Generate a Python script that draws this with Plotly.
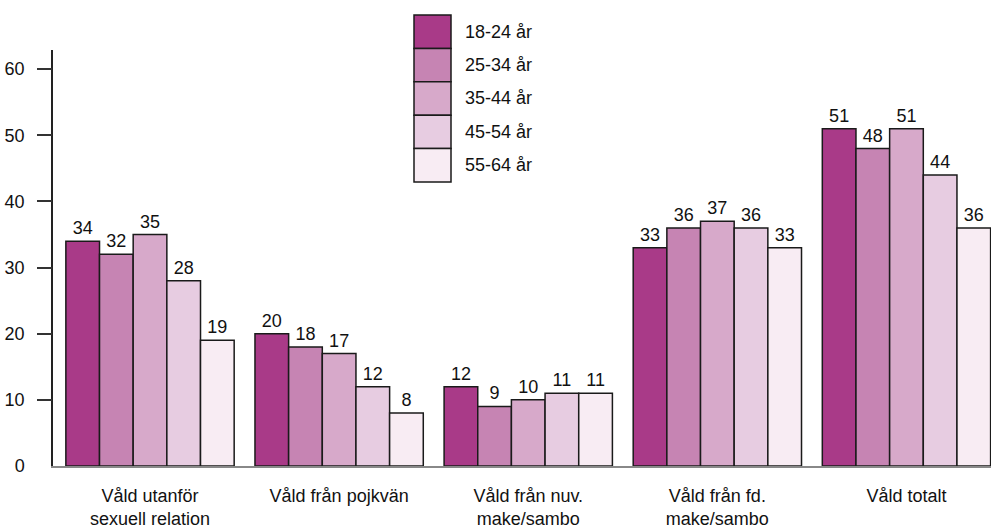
import plotly.graph_objects as go

categories = ["Våld utanför<br>sexuell relation", "Våld från pojkvän", "Våld från nuv.<br>make/sambo",
              "Våld från fd.<br>make/sambo", "Våld totalt"]
series_names = ["18-24 år", "25-34 år", "35-44 år", "45-54 år", "55-64 år"]
v_18_24 = [34, 20, 12, 33, 51]
v_25_34 = [32, 18, 9, 36, 48]
v_35_44 = [35, 17, 10, 37, 51]
v_45_54 = [28, 12, 11, 36, 44]
v_55_64 = [19, 8, 11, 33, 36]
series_values = [v_18_24, v_25_34, v_35_44, v_45_54, v_55_64]
y_ticks = [0, 10, 20, 30, 40, 50, 60]

colors = ["#A93A88", "#C684B3", "#D7A9CA", "#E7CCE1", "#F8ECF3"]
FONT = "Liberation Sans, Arial, Helvetica, sans-serif"
FS = 18

W, H = 991, 529
L, R, T, B = 53, 0, 50, 63

fig = go.Figure()
xs = list(range(len(categories)))
for name, vals, c in zip(series_names, series_values, colors):
    fig.add_trace(go.Bar(
        x=xs, y=vals, name=name,
        marker=dict(color=c, line=dict(color="#1a1a1a", width=1.5)),
        text=[str(v) for v in vals], textposition="outside",
        textfont=dict(family=FONT, size=FS, color="#111"),
        cliponaxis=False, showlegend=False,
    ))

# tick marks only (no tick at 0)
fig.add_trace(go.Scatter(x=[0], y=[0], yaxis="y2", mode="markers",
                         marker=dict(opacity=0), showlegend=False, hoverinfo="skip"))

yrange = [0, 62.9]
fig.update_layout(
    width=W, height=H,
    margin=dict(l=L, r=R, t=T, b=B, autoexpand=False),
    paper_bgcolor="white", plot_bgcolor="white",
    barmode="group", bargap=0.11, bargroupgap=0,
    font=dict(family=FONT, size=FS, color="#111"),
    uniformtext=dict(minsize=FS, mode="show"),
    xaxis=dict(
        range=[-0.513, 4.447], tickvals=xs, ticktext=categories,
        showline=True, linecolor="#888", linewidth=2,
        ticks="", showgrid=False, zeroline=False, automargin=False,
        ticklabelstandoff=12,
        tickfont=dict(family=FONT, size=FS, color="#111"),
    ),
    yaxis=dict(
        range=yrange, tickvals=y_ticks, ticktext=[str(t) for t in y_ticks],
        showline=True, linecolor="#222", linewidth=1.5,
        ticks="", showgrid=False, zeroline=False, automargin=False,
        ticklabelstandoff=23,
        tickfont=dict(family=FONT, size=FS, color="#111"),
    ),
    yaxis2=dict(
        range=yrange, overlaying="y", side="left",
        tickvals=y_ticks[1:], showticklabels=False,
        ticks="outside", ticklen=15, tickwidth=1.5, tickcolor="#333",
        showline=False, showgrid=False, zeroline=False, automargin=False,
    ),
)

# custom legend (stacked boxes), positions given in page pixels
pw = W - L - R
ph = H - T - B
def px_x(px):
    return (px - L) / pw
def px_y(py):
    return (H - B - py) / ph

box_x0, box_x1 = 414, 451
top = 15
bh = 33.4
for i, (name, c) in enumerate(zip(series_names, colors)):
    y0 = top + i * bh
    y1 = y0 + bh
    fig.add_shape(type="rect", xref="paper", yref="paper",
                  x0=px_x(box_x0), x1=px_x(box_x1), y0=px_y(y1), y1=px_y(y0),
                  fillcolor=c, line=dict(color="#1a1a1a", width=1.5))
    fig.add_annotation(xref="paper", yref="paper", x=px_x(463), y=px_y((y0 + y1) / 2),
                       text=name, showarrow=False, xanchor="left", yanchor="middle",
                       font=dict(family=FONT, size=FS, color="#111"))

fig.write_html("out.html", config={"displayModeBar": False},
               post_script="document.body.style.margin='0';document.body.style.overflow='hidden';")
